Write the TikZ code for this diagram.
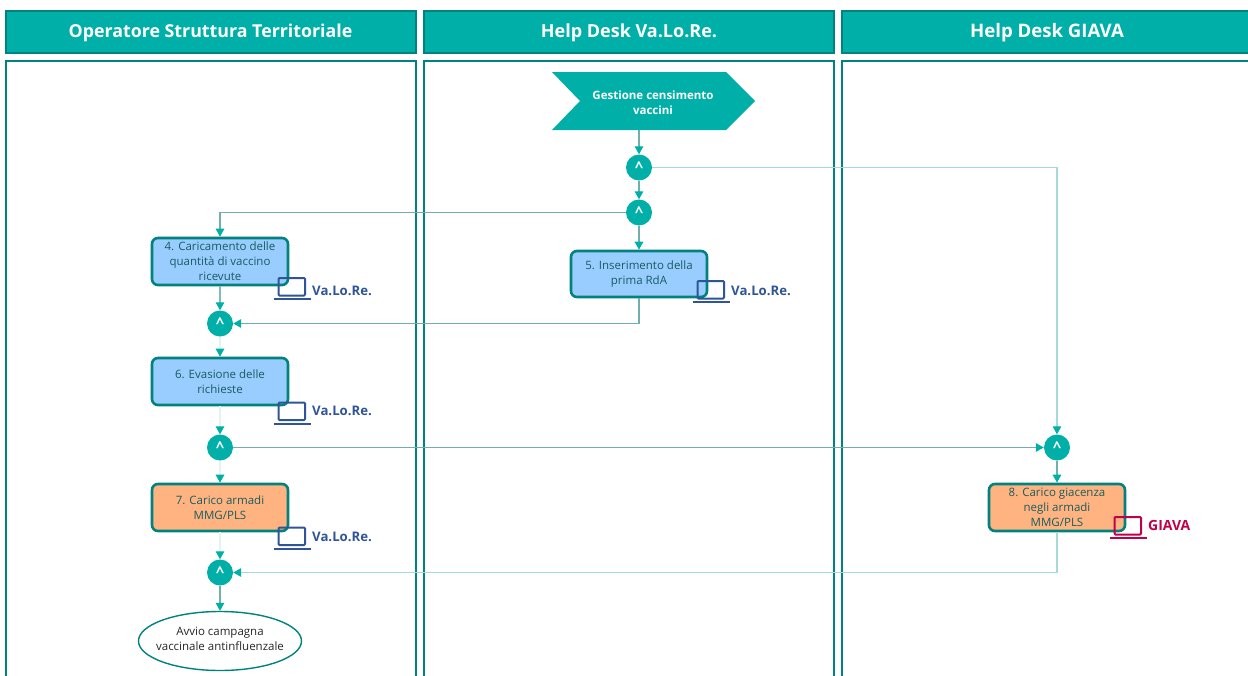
\documentclass[tikz,border=0pt]{standalone}
\usepackage{fontspec}
\setmainfont{Open Sans}
\usetikzlibrary{arrows.meta,calc,shapes.geometric}
\definecolor{teal1}{HTML}{00B0A8}
\definecolor{teal2}{HTML}{00827F}
\definecolor{lineA}{HTML}{6FAFAC}
\definecolor{lineB}{HTML}{A5DAD6}
\definecolor{lineC}{HTML}{E4F3F2}
\definecolor{boxblue}{HTML}{99CCFF}
\definecolor{boxorange}{HTML}{FFB381}
\definecolor{txtt}{HTML}{185C5E}
\definecolor{lapblue}{HTML}{2F5597}
\definecolor{lapred}{HTML}{C00048}
\tikzset{
  x=1pt,y=-1pt,
  header/.style={draw=teal2,line width=1.2pt,fill=teal1,minimum width=410pt,minimum height=42pt,inner sep=0pt},
  headtext/.style={inner sep=0pt,text=white,font=\fontsize{18}{20}\selectfont\bfseries},
  panel/.style={draw=teal2,line width=1.3pt,fill=white},
  task/.style={draw=teal2,line width=2.6pt,rounded corners=6pt,minimum width=136pt,inner sep=0pt,align=center,text=txtt,font=\fontsize{11.5}{15.1}\selectfont,execute at begin node={\rule{0pt}{16.2pt}}},
  gate/.style={circle,fill=teal1,minimum size=26pt,inner sep=0pt,text=white,font=\fontsize{15}{15}\selectfont\bfseries},
  lab/.style={anchor=west,inner sep=0pt,font=\fontsize{13.2}{14}\selectfont\bfseries},
  conn/.style={line width=1.3pt,-{Triangle[length=8pt,width=8.5pt,color=teal1]}},
}
\newcommand{\lapicon}[3]{%
  \draw[#3,line width=2pt,rounded corners=1pt] (#1,#2) rectangle ++(26.5,17.5);
  \draw[#3,line width=2pt] ($(#1,#2)+(-5,21)$) -- ++(37,0);
}
\begin{document}
\begin{tikzpicture}
\useasboundingbox (0,0) rectangle (1248,675);
\clip (0,0) rectangle (1248,675);
\fill[white] (0,0) rectangle (1248,675);
% panels
\draw[panel] (6,61) rectangle (416,690);
\draw[panel] (424,61) rectangle (834,690);
\draw[panel] (842,61) rectangle (1260,690);
\node[header] (h1) at (211,32) {};
\node[header] (h2) at (629,32) {};
\node[header,minimum width=420pt] (h3r) at (1052,32) {};
\node[headtext,font=\fontsize{17.8}{20}\selectfont\bfseries] (h1t) at (210.5,32.5) {Operatore Struttura Territoriale};
\node[headtext] (h2t) at (629,32.5) {Help Desk Va.Lo.Re.};
\node[headtext,font=\fontsize{18.6}{20}\selectfont\bfseries] (h3t) at (1047,32.5) {Help Desk GIAVA};
% start chevron
\fill[teal1] (552,72) -- (726,72) -- (755,101) -- (726,130) -- (552,130) -- (580,101) -- cycle;
\node[minimum width=174pt,minimum height=58pt,inner sep=0pt] (start) at (639,101) {};
\node[inner sep=0pt,align=center,text=white,font=\fontsize{11.5}{15}\selectfont\bfseries] (startt) at (653,102.5) {Gestione censimento\\vaccini};
% gates
\node[gate] (g1) at (639,167.5) {\^{}};
\node[gate] (g2) at (639,212.5) {\^{}};
\node[gate] (g3) at (220,323.5) {\^{}};
\node[gate] (g4) at (220,447.5) {\^{}};
\node[gate] (g5) at (1057,447.5) {\^{}};
\node[gate] (g6) at (220,572.5) {\^{}};
% tasks
\node[task,fill=boxblue,minimum height=47pt] (t4) at (220,261.5) {4. Caricamento delle\\quantità di vaccino\\ricevute};
\node[task,fill=boxblue,minimum height=46pt] (t5) at (639,274) {5. Inserimento della\\prima RdA};
\node[task,fill=boxblue,minimum height=47pt] (t6) at (220,381.5) {6. Evasione delle\\richieste};
\node[task,fill=boxorange,minimum height=47pt] (t7) at (220,507.5) {7. Carico armadi\\MMG/PLS};
\node[task,fill=boxorange,minimum height=47pt] (t8) at (1057,507.5) {8. Carico giacenza\\negli armadi\\MMG/PLS};
\node[draw=teal2,line width=1.4pt,fill=white,ellipse,minimum width=163pt,minimum height=59pt,inner sep=0pt] (end) at (220,641) {};
\node[inner sep=0pt,align=center,text=black!85,font=\fontsize{11.5}{15}\selectfont] (endt) at (220,639) {Avvio campagna\\vaccinale antinfluenzale};
% connectors
\draw[conn,lineA] (start.south) -- (g1.north);
\draw[conn,lineA] (g1.south) -- (g2.north);
\draw[conn,lineA] (g2.south) -- (t5.north);
\draw[conn,lineA] (g2.west) -| (t4.north);
\draw[conn,lineB] (g1.east) -| (g5.north);
\draw[conn,lineA!70!lineB] (t4.south) -- (g3.north);
\draw[conn,lineA] (t5.south) |- (g3.east);
\draw[conn,lineC] (g3.south) -- (t6.north);
\draw[conn,lineC] (t6.south) -- (g4.north);
\draw[conn,lineA] (g4.east) -- (g5.west);
\draw[conn,lineC] (g4.south) -- (t7.north);
\draw[conn,lineC] (t7.south) -- (g6.north);
\draw[conn,lineA] (g5.south) -- (t8.north);
\draw[conn,lineB] (t8.south) |- (g6.east);
\draw[conn,lineA] (g6.south) -- (end.north);
% laptops and labels
\lapicon{278.5}{278}{lapblue}
\node[lab,text=lapblue] (l4) at (312,291) {Va.Lo.Re.};
\lapicon{697.5}{281}{lapblue}
\node[lab,text=lapblue] (l5) at (731,291) {Va.Lo.Re.};
\lapicon{278.5}{402.5}{lapblue}
\node[lab,text=lapblue] (l6) at (312,411) {Va.Lo.Re.};
\lapicon{278.5}{527.5}{lapblue}
\node[lab,text=lapblue] (l7) at (312,537) {Va.Lo.Re.};
\lapicon{1114.5}{517}{lapred}
\node[lab,text=lapred,font=\fontsize{14}{14}\selectfont\bfseries] (l8) at (1148,525) {GIAVA};
\end{tikzpicture}
\end{document}
